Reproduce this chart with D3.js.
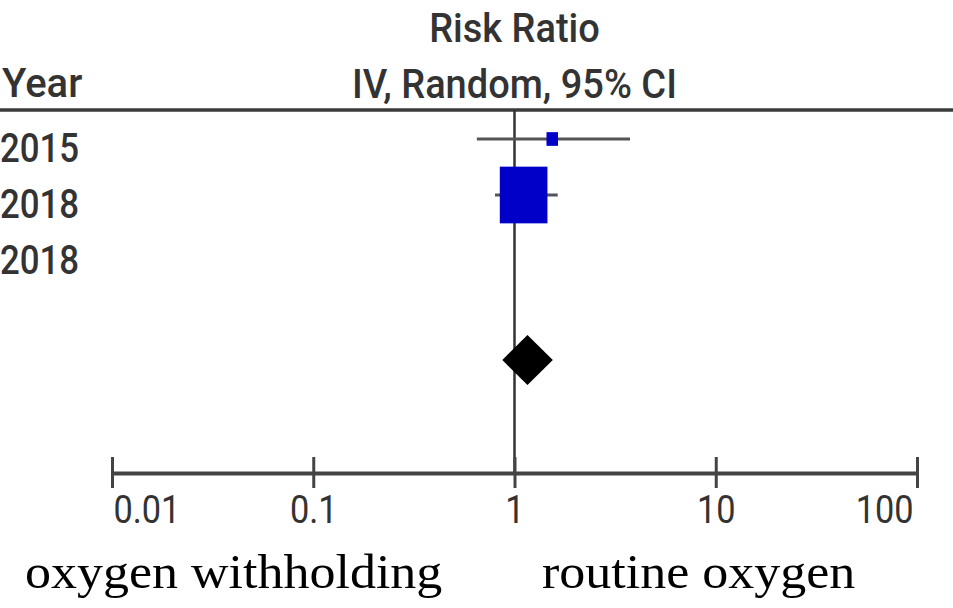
<!DOCTYPE html>
<html lang="en">
<head>
<meta charset="utf-8"/>
<title>Risk Ratio forest plot</title>
<style>
  html, body { margin: 0; padding: 0; background: #fff; }
  svg { display: block; }
  .hdr { font-family: Roboto, "Liberation Sans", sans-serif; font-weight: 500; fill: #333; }
  .tick text { font-family: Roboto, "Liberation Sans", sans-serif; fill: #333; }
  .side { font-family: "Liberation Serif", "Times New Roman", serif; fill: #000; }
</style>
</head>
<body>
<div id="chart"></div>
<script src="https://d3js.org/d3.v7.min.js"></script>
<script>
  // study rows (study names are cut off in the source, only years show)
  const years = ["2015", "2018", "2018"];
  const rr    = [1.54, 1.11, null];
  const lower = [0.65, 0.80, null];
  const upper = [3.75, 1.64, null];
  const weights = [5.5, 94.5, null];

  // pooled estimate
  const pooled = { rr: 1.16, lower: 0.87, upper: 1.55 };

  const tickValues = [0.01, 0.1, 1, 10, 100];
  const tickLabels = ["0.01", "0.1", "1", "10", "100"];
  const favours = ["oxygen withholding", "routine oxygen"];

  const width = 953, height = 608;
  const axisY = 473, headY = 110, pooledY = 360;
  const squeeze = 0.84; // source image is stretched vertically

  const svg = d3.select("#chart").append("svg")
      .attr("width", width)
      .attr("height", height);

  const x = d3.scaleLog().domain([0.01, 100]).range([112, 917]);
  const y = d3.scalePoint().domain(d3.range(years.length)).range([139, 251]);

  // headers
  svg.append("text").attr("class", "hdr")
      .attr("transform", `translate(2,97)`)
      .attr("font-size", 40)
      .text("Year");
  svg.append("text").attr("class", "hdr")
      .attr("transform", `translate(${x(1)},42) scale(0.95,1)`)
      .attr("text-anchor", "middle")
      .attr("font-size", 40)
      .text("Risk Ratio");
  svg.append("text").attr("class", "hdr")
      .attr("transform", `translate(${x(1)},98) scale(0.95,1)`)
      .attr("text-anchor", "middle")
      .attr("font-size", 40)
      .text("IV, Random, 95% CI");

  svg.append("line")
      .attr("x1", 0).attr("x2", width)
      .attr("y1", headY).attr("y2", headY)
      .attr("stroke", "#3a3a3a")
      .attr("stroke-width", 3.5);

  // line of no effect
  svg.append("line")
      .attr("x1", x(1)).attr("x2", x(1))
      .attr("y1", headY).attr("y2", axisY)
      .attr("stroke", "#333")
      .attr("stroke-width", 2.5);

  // year labels
  svg.append("g").selectAll("text")
    .data(years)
    .join("text")
      .attr("class", "hdr")
      .attr("font-weight", 400)
      .attr("font-size", 40)
      .attr("transform", (d, i) => `translate(0,${y(i) + 23}) scale(0.87,1)`)
      .text(d => d);

  const rows = years.map((d, i) => ({ year: d, rr: rr[i], lo: lower[i], hi: upper[i], w: weights[i], i }))
      .filter(d => d.rr != null);

  // confidence intervals
  svg.append("g").selectAll("line")
    .data(rows)
    .join("line")
      .attr("x1", d => x(d.lo)).attr("x2", d => x(d.hi))
      .attr("y1", d => y(d.i)).attr("y2", d => y(d.i))
      .attr("stroke", "#555")
      .attr("stroke-width", 3);

  // weighted squares
  const side = d3.scaleSqrt().domain([0, 100]).range([0, 49]);
  svg.append("g").selectAll("rect")
    .data(rows)
    .join("rect")
      .attr("x", d => x(d.rr) - side(d.w) / 2)
      .attr("y", d => y(d.i) - side(d.w) / squeeze / 2)
      .attr("width", d => side(d.w))
      .attr("height", d => side(d.w) / squeeze)
      .attr("fill", "#0000c8");

  // pooled diamond
  const dh = 25;
  svg.append("path")
      .attr("d", `M${x(pooled.lower)},${pooledY} L${x(pooled.rr)},${pooledY - dh} L${x(pooled.upper)},${pooledY} L${x(pooled.rr)},${pooledY + dh} Z`)
      .attr("fill", "#000");

  // axis
  const axis = d3.axisBottom(x)
      .tickValues(tickValues)
      .tickFormat((d, i) => tickLabels[i])
      .tickSizeOuter(0)
      .tickPadding(0);

  const gx = svg.append("g")
      .attr("transform", `translate(0,${axisY})`)
      .call(axis);

  gx.select(".domain")
      .attr("stroke", "#444")
      .attr("stroke-width", 4);
  gx.selectAll(".tick line")
      .attr("y1", -16).attr("y2", 15)
      .attr("stroke", "#444")
      .attr("stroke-width", 3);
  gx.selectAll(".tick text")
      .attr("font-size", 39)
      .attr("dy", null)
      .attr("y", 0)
      .attr("text-anchor", (d, i) => i === 0 ? "start" : i === tickValues.length - 1 ? "end" : "middle")
      .attr("transform", (d, i) => `translate(${i === 0 ? 1 : i === tickValues.length - 1 ? -4 : 0},50) scale(0.88,1)`);

  // favours labels
  svg.append("text").attr("class", "side")
      .attr("transform", "translate(25,588) scale(1,0.92)")
      .attr("font-size", 52)
      .text(favours[0]);
  svg.append("text").attr("class", "side")
      .attr("transform", "translate(542,588) scale(1,0.92)")
      .attr("font-size", 52)
      .text(favours[1]);
</script>
</body>
</html>
